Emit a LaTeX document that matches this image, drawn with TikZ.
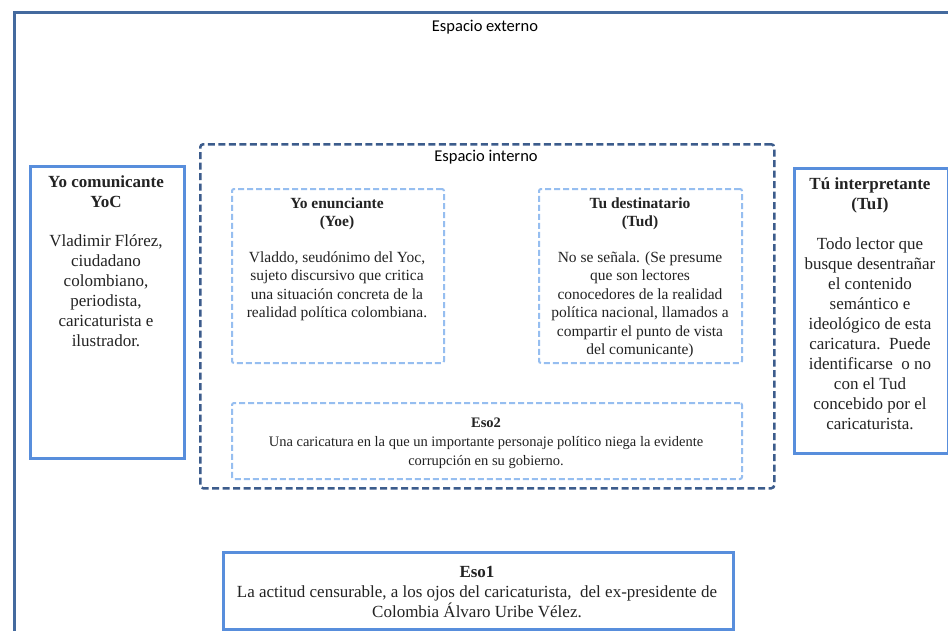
\documentclass[tikz,border=0pt]{standalone}
\usepackage{fontspec}
\setmainfont{Liberation Serif}
\newfontfamily\calibfont{Carlito}
\definecolor{framecol}{RGB}{68,106,158}
\definecolor{darkdashcol}{RGB}{60,92,140}
\definecolor{solidcol}{RGB}{88,142,220}
\definecolor{lightcol}{RGB}{150,190,240}
\definecolor{textcol}{RGB}{35,35,35}
\begin{document}
\begin{tikzpicture}[x=1pt,y=-1pt,
  outerframe/.style={draw=framecol, line width=2.5pt, rectangle, inner sep=0pt, anchor=north west},
  darkdash/.style={draw=darkdashcol, line width=2.5pt, dash pattern=on 7pt off 3.5pt, rounded corners=3pt, rectangle, inner sep=0pt, anchor=north west},
  solidbox/.style={draw=solidcol, line width=2.5pt, rectangle, inner sep=0pt, anchor=north west},
  lightdash/.style={draw=lightcol, line width=2pt, dash pattern=on 6pt off 3pt, rounded corners=2pt, rectangle, inner sep=0pt, anchor=north west},
  txt/.style={align=center, inner sep=0pt, text=textcol, anchor=north},
  big/.style={font=\fontsize{17}{20}\selectfont},
  mid/.style={font=\fontsize{15.5}{18.5}\selectfont},
  small/.style={font=\fontsize{14.5}{19}\selectfont},
  sans/.style={font=\calibfont\fontsize{16.5}{20}\selectfont, inner sep=0pt, text=black, anchor=base}
]
\useasboundingbox (0,0) rectangle (948,630);
\clip (0,0) rectangle (948,630);
\fill[white] (0,0) rectangle (948,630);

% outer space
\node[outerframe, minimum width=960pt, minimum height=640pt] (ext) at (13,11) {};
\node[sans] (extlabel) at (485,31.5) {Espacio externo};

% inner space
\node[darkdash, minimum width=574pt, minimum height=344pt] (int) at (199,143) {};
\node[sans] (intlabel) at (486,161.5) {Espacio interno};

% Yo comunicante
\node[solidbox, minimum width=154pt, minimum height=292pt] (yoc) at (29,165) {};
\node[txt, big] (yoctxt) at (106,175) {\textbf{Yo comunicante}\\\textbf{YoC}\\[19pt]
  Vladimir Flórez,\\ciudadano\\colombiano,\\periodista,\\caricaturista e\\ilustrador.};

% Yo enunciante
\node[lightdash, minimum width=212pt, minimum height=174pt] (yoe) at (231,188) {};
\node[txt, mid] (yoetxt) at (337,197.5) {\textbf{Yo enunciante}\\\textbf{(Yoe)}\\[17pt]
  Vladdo, seudónimo del Yoc,\\sujeto discursivo que critica\\una situación concreta de la\\realidad política colombiana.};

% Tu destinatario
\node[lightdash, minimum width=203pt, minimum height=174pt] (tud) at (538,188) {};
\node[txt, mid] (tudtxt) at (640,197.5) {\textbf{Tu destinatario}\\\textbf{(Tud)}\\[17pt]
  No se señala. (Se presume\\que son lectores\\conocedores de la realidad\\política nacional, llamados a\\compartir el punto de vista\\del comunicante)};

% Eso2
\node[lightdash, minimum width=510pt, minimum height=76pt] (eso2) at (231,402) {};
\node[txt, small] (eso2txt) at (486,417.5) {\textbf{Eso2}\\
  Una caricatura en la que un importante personaje político niega la evidente\\corrupción en su gobierno.};

% Tu interpretante
\node[solidbox, minimum width=154pt, minimum height=285pt] (tui) at (793,167) {};
\node[txt, big] (tuitxt) at (870,177) {\textbf{Tú interpretante}\\\textbf{(TuI)}\\[20pt]
  Todo lector que\\busque desentrañar\\el contenido\\semántico e\\ideológico de esta\\caricatura.\ \ Puede\\identificarse\ \ o no\\con el Tud\\concebido por el\\caricaturista.};

% Eso1
\node[solidbox, minimum width=510pt, minimum height=77pt] (eso1) at (222,551) {};
\node[txt, big] (eso1txt) at (477,566) {\textbf{Eso1}\\
  La actitud censurable, a los ojos del caricaturista,\ \ del ex-presidente de\\Colombia Álvaro Uribe Vélez.};
\end{tikzpicture}
\end{document}
